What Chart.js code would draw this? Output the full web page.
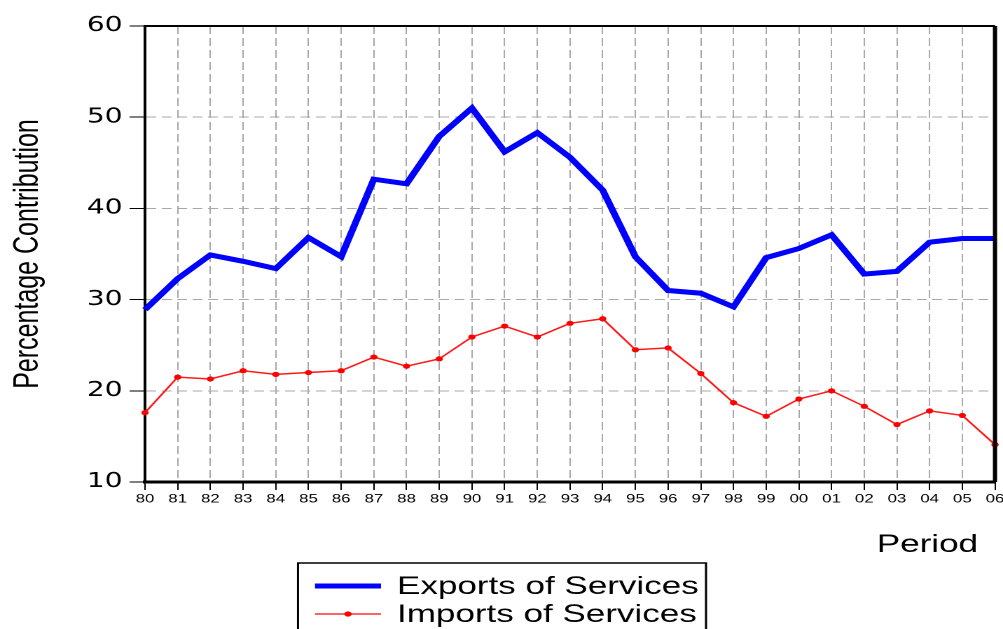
<!DOCTYPE html>
<html>
<head>
<meta charset="utf-8">
<script src="https://cdn.jsdelivr.net/npm/chart.js@4.4.1/dist/chart.umd.min.js"></script>
<style>
    body { margin: 0; background: #fff; }
    #wrap { width: 1003px; height: 629px; overflow: hidden; position: relative; }
    /* the original graph is stretched sideways, so the canvas is too */
    #stretch { width: 716px; height: 629px; transform-origin: 0 0; }
</style>
</head>
<body>
<div id="wrap"><div id="stretch"><canvas id="chart" width="716" height="629"></canvas></div></div>
<script>
// Data
const years = ['80', '81', '82', '83', '84', '85', '86', '87', '88', '89', '90', '91', '92', '93',
    '94', '95', '96', '97', '98', '99', '00', '01', '02', '03', '04', '05', '06'];
const exportsOfServices = [28.9, 32.3, 34.9, 34.2, 33.4, 36.8, 34.7, 43.2, 42.7, 47.9, 51.0, 46.2, 48.3, 45.6,
    42.0, 34.7, 31.0, 30.7, 29.2, 34.6, 35.6, 37.1, 32.8, 33.1, 36.3, 36.7, 36.7];
const importsOfServices = [17.6, 21.5, 21.3, 22.2, 21.8, 22.0, 22.2, 23.7, 22.7, 23.5, 25.9, 27.1, 25.9, 27.4,
    27.9, 24.5, 24.7, 21.9, 18.7, 17.2, 19.1, 20.0, 18.3, 16.3, 17.8, 17.3, 14.1];
const yTicks = [10, 20, 30, 40, 50, 60];
const seriesNames = ['Exports of Services', 'Imports of Services'];

// Horizontal stretch factor (page px / canvas px)
const SX = 1003 / 716;
document.getElementById('stretch').style.transform = 'scaleX(' + SX + ')';

const FONT = "'Liberation Sans', Arial, sans-serif";
const GRID = '#a8a8a8';

// Frame, legend box and "Period" label
const extras = {
    id: 'extras',
    afterDatasetsDraw(chart) {
        const ctx = chart.ctx;
        const a = chart.chartArea;
        ctx.save();
        ctx.strokeStyle = '#000';
        ctx.lineWidth = 2;
        ctx.beginPath();
        ctx.moveTo(a.left, a.top);
        ctx.lineTo(a.right, a.top);
        ctx.stroke();
        ctx.lineWidth = 3;
        ctx.beginPath();
        ctx.moveTo(a.right, a.top);
        ctx.lineTo(a.right, a.bottom);
        ctx.stroke();
        ctx.restore();
    },
    afterDraw(chart) {
        const ctx = chart.ctx;
        ctx.save();

        // Period
        ctx.fillStyle = '#000';
        ctx.font = '25px ' + FONT;
        ctx.textAlign = 'right';
        ctx.textBaseline = 'middle';
        ctx.fillText('Period', 978 / SX, 545);

        // legend box
        const left = 298 / SX, right = 706 / SX;
        ctx.strokeStyle = '#000';
        ctx.lineWidth = 1.5;
        ctx.strokeRect(left, 563, right - left, 100);

        const x1 = 315 / SX, x2 = 381 / SX;
        ctx.strokeStyle = '#0000ff';
        ctx.lineWidth = 5;
        ctx.beginPath();
        ctx.moveTo(x1, 586);
        ctx.lineTo(x2, 586);
        ctx.stroke();

        ctx.strokeStyle = '#ff3030';
        ctx.lineWidth = 1.5;
        ctx.beginPath();
        ctx.moveTo(x1, 614);
        ctx.lineTo(x2, 614);
        ctx.stroke();
        ctx.fillStyle = '#ff0000';
        ctx.beginPath();
        ctx.arc((x1 + x2) / 2, 614, 2.6, 0, Math.PI * 2);
        ctx.fill();

        ctx.fillStyle = '#000';
        ctx.textAlign = 'left';
        ctx.font = '25px ' + FONT;
        ctx.fillText(seriesNames[0], 397 / SX, 587);
        ctx.fillText(seriesNames[1], 397 / SX, 615);
        ctx.restore();
    }
};

new Chart(document.getElementById('chart'), {
    type: 'line',
    data: {
        labels: years,
        datasets: [
            {
                label: seriesNames[0],
                data: exportsOfServices,
                borderColor: '#0000ff',
                borderWidth: 5,
                pointRadius: 0,
                tension: 0
            },
            {
                label: seriesNames[1],
                data: importsOfServices,
                borderColor: '#ff1a1a',
                borderWidth: 1.5,
                pointRadius: 2.6,
                pointBackgroundColor: '#ff0000',
                pointBorderWidth: 0,
                tension: 0
            }
        ]
    },
    options: {
        responsive: false,
        animation: false,
        devicePixelRatio: 2,
        layout: { padding: { top: 26, right: 8 / SX, left: 0, bottom: 0 } },
        plugins: {
            legend: { display: false },
            tooltip: { enabled: false }
        },
        scales: {
            x: {
                type: 'category',
                offset: false,
                grid: {
                    color: GRID,
                    lineWidth: 1,
                    drawTicks: true,
                    tickLength: 8,
                    tickColor: '#000',
                    tickWidth: 1
                },
                border: { display: true, color: '#000', width: 3, dash: [8, 4] },
                ticks: {
                    color: '#000',
                    font: { family: FONT, size: 12 },
                    autoSkip: false,
                    maxRotation: 0,
                    padding: 2
                },
                afterFit: scale => {
                    scale.height = 629 - 482;
                    // let the last label run off the edge like the original
                    scale.paddingRight = 0;
                }
            },
            y: {
                min: 10,
                max: 60,
                afterBuildTicks: scale => { scale.ticks = yTicks.map(v => ({ value: v })); },
                grid: {
                    color: GRID,
                    lineWidth: 1,
                    drawTicks: true,
                    tickLength: 11,
                    tickColor: '#000',
                    tickWidth: 1
                },
                border: { display: true, color: '#000', width: 2, dash: [7, 4] },
                ticks: {
                    color: '#000',
                    font: { family: "'DejaVu Sans', sans-serif", size: 20 },
                    padding: 5
                },
                title: {
                    display: true,
                    text: 'Percentage Contribution',
                    color: '#000',
                    font: { family: FONT, size: 25 },
                    padding: { top: 5, bottom: 0 }
                },
                afterFit: scale => { scale.width = 145 / SX; }
            }
        }
    },
    plugins: [extras]
});
</script>
</body>
</html>
